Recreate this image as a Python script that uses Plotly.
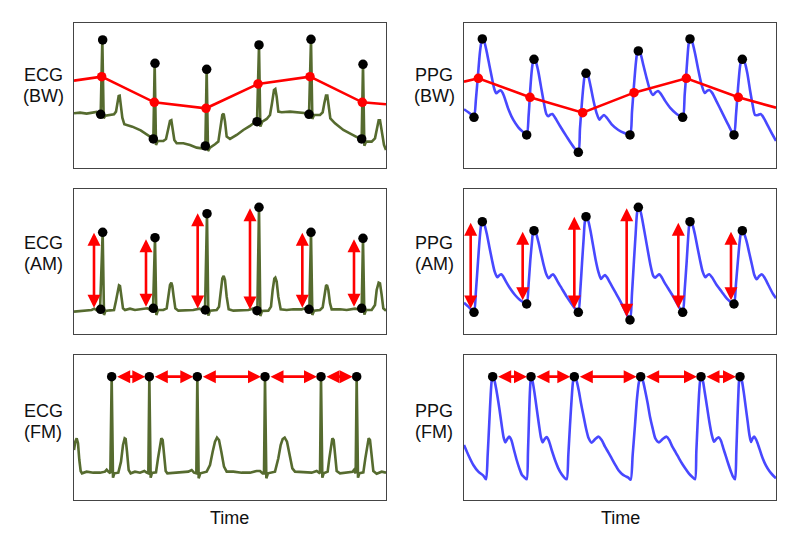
import plotly.graph_objects as go

# ---------------------------------------------------------------
# Values (picture units: x runs
# 42..978 across each panel, y runs downward inside each panel).
# ---------------------------------------------------------------
ROW_LABELS_LEFT = [("ECG", "(BW)"), ("ECG", "(AM)"), ("ECG", "(FM)")]
ROW_LABELS_RIGHT = [("PPG", "(BW)"), ("PPG", "(AM)"), ("PPG", "(FM)")]
X_TITLE = "Time"

# ---- ECG, baseline wander ----
ECG_BW = [(42,295),(60,293),(80,296),(100,294),(110,291),(116,295),(122,300),(127,73),(131,310),(136,302),
          (150,300),(162,298),(168,290),(172,265),(176,243),(179,242),(182,262),(187,308),(193,328),(217,335),
          (242,346),(267,362),(276,369),(280,374),(284,145),(288,390),(293,378),(310,378),(318,372),(324,345),
          (330,318),(334,316),(338,340),(343,375),(350,385),(370,385),(390,390),(410,398),(425,400),(432,396),
          (436,398),(440,163),(444,408),(450,398),(465,388),(475,380),(481,340),(487,300),(491,296),(495,320),
          (500,365),(510,372),(530,360),(550,345),(570,333),(584,322),(591,322),(597,90),(601,335),(607,320),
          (620,312),(630,300),(636,265),(642,225),(646,222),(650,245),(655,290),(665,292),(690,290),(720,292),
          (740,295),(747,300),(753,73),(757,312),(762,300),(780,300),(788,292),(793,265),(798,242),(802,242),
          (806,270),(811,310),(825,325),(850,345),(875,358),(895,368),(905,374),(909,148),(913,392),(918,380),
          (935,380),(945,370),(950,340),(956,316),(960,316),(965,345),(972,390),(978,405)]
ECG_BW_PEAKS = [(128,75),(285,145),(440,163),(597,90),(753,73),(909,148)]
ECG_BW_TROUGHS = [(122,298),(280,372),(436,393),(591,320),(747,298),(905,372)]
ECG_BW_MID = [(125,185),(283,262),(438,280),(594,207),(750,185),(907,262)]
ECG_BW_EDGES = [(42,197),(978,268)]

# ---- PPG, baseline wander ----
PPG_BW = [(42,283),(55,292),(65,300),(72,307),(78,250),(84,180),(90,110),(95,78),(98,72),(103,80),(110,110),
          (118,150),(126,190),(133,222),(139,235),(146,229),(152,226),(158,234),(165,252),(175,282),(190,315),
          (205,337),(218,350),(230,360),(236,300),(241,220),(246,160),(250,136),(253,133),(258,142),(265,170),
          (273,215),(281,260),(289,297),(295,304),(301,299),(307,297),(314,306),(330,333),(350,365),(370,395),
          (385,412),(390,340),(396,260),(401,205),(405,178),(409,175),(415,185),(422,215),(430,255),(440,295),
          (448,314),(455,306),(462,300),(470,308),(485,328),(505,345),(525,355),(540,360),(546,290),(552,210),
          (558,140),(562,112),(566,108),(572,118),(580,150),(590,190),(600,225),(609,240),(617,232),(624,228),
          (632,236),(645,257),(660,278),(680,297),(698,307),(704,240),(710,160),(715,95),(718,75),(721,72),
          (727,82),(735,115),(745,165),(755,210),(764,234),(771,228),(778,225),(786,233),(800,260),(815,290),
          (835,330),(852,360),(858,300),(864,220),(870,155),(874,136),(878,133),(884,142),(892,175),(900,225),
          (908,270),(915,300),(924,300),(932,297),(940,307),(955,335),(968,360),(978,378)]
PPG_BW_PEAKS = [(97,72),(252,133),(408,175),(565,108),(720,72),(877,133)]
PPG_BW_TROUGHS = [(72,307),(230,360),(385,412),(540,360),(698,307),(852,360)]
PPG_BW_MID = [(85,190),(240,247),(398,293),(552,233),(709,190),(865,247)]
PPG_BW_EDGES = [(42,200),(978,278)]

# ---- ECG, amplitude modulation ----
ECG_AM = [(42,395),(60,393),(80,392),(95,390),(103,386),(110,391),(120,393),(128,157),(132,405),(136,393),
          (150,391),(162,390),(168,362),(173,332),(177,316),(180,318),(184,345),(189,385),(195,390),(210,386),
          (225,390),(250,388),(262,385),(270,389),(279,390),(285,173),(289,405),(294,390),(310,390),(320,385),
          (325,350),(330,315),(334,308),(337,318),(341,350),(346,385),(355,392),(380,392),(400,390),(418,386),
          (428,390),(435,392),(441,101),(445,407),(450,392),(470,390),(477,380),(482,330),(487,295),(491,288),
          (495,300),(500,350),(506,388),(520,392),(545,392),(565,390),(578,386),(585,392),(592,394),(597,82),
          (601,408),(606,393),(625,392),(633,380),(638,330),(643,296),(646,293),(650,305),(655,350),(662,388),
          (680,390),(700,388),(725,388),(735,385),(742,390),(748,392),(753,157),(757,405),(762,392),(780,390),
          (788,382),(793,345),(798,318),(801,315),(805,330),(810,370),(815,388),(840,388),(860,390),(885,386),
          (898,388),(905,390),(909,175),(913,404),(918,390),(935,390),(945,375),(950,330),(956,308),(960,310),
          (965,345),(970,385),(978,392)]
ECG_AM_PEAKS = [(128,157),(285,173),(441,101),(597,82),(753,157),(909,175)]
ECG_AM_TROUGHS = [(122,388),(280,385),(436,390),(591,392),(747,388),(905,385)]
ECG_AM_ARROW_X = [102, 258, 413, 570, 727, 882]
ECG_AM_ARROW_TOP = [158, 178, 100, 85, 158, 178]
ECG_AM_ARROW_BOTTOM = [388, 385, 390, 393, 388, 385]

# ---- PPG, amplitude modulation ----
PPG_AM = [(42,368),(55,380),(65,390),(72,397),(78,330),(84,245),(90,165),(94,132),(98,125),(103,133),(110,160),
          (118,200),(126,240),(134,275),(142,292),(148,286),(154,283),(160,290),(168,305),(180,325),(195,345),
          (210,360),(222,368),(230,372),(236,310),(241,240),(246,185),(249,158),(253,152),(258,160),(265,185),
          (273,220),(281,255),(289,283),(296,295),(303,287),(309,283),(315,290),(323,305),(335,325),(350,350),
          (365,372),(377,388),(385,397),(391,330),(396,250),(401,175),(404,130),(408,110),(414,120),(421,150),
          (429,195),(437,240),(445,275),(453,297),(459,290),(465,285),(471,292),(480,308),(495,335),(510,362),
          (525,392),(540,420),(546,340),(552,240),(557,160),(561,100),(565,82),(571,92),(578,125),(586,170),
          (594,215),(602,258),(610,288),(616,293),(622,287),(628,283),(635,292),(645,310),(665,342),(685,377),
          (698,397),(704,330),(710,245),(715,165),(718,132),(721,125),(727,133),(734,160),(742,200),(750,240),
          (758,275),(766,292),(772,286),(778,283),(786,292),(800,315),(815,335),(830,355),(845,368),(852,372),
          (858,310),(864,240),(869,185),(873,158),(877,152),(882,160),(890,185),(898,220),(906,255),(913,285),
          (920,298),(928,288),(935,283),(943,292),(955,315),(968,340),(978,355)]
PPG_AM_PEAKS = [(97,125),(252,152),(408,110),(565,82),(720,125),(877,152)]
PPG_AM_TROUGHS = [(72,397),(230,372),(385,397),(540,420),(698,397),(852,372)]
PPG_AM_ARROW_X = [62, 218, 373, 530, 685, 843]
PPG_AM_ARROW_TOP = [128, 155, 110, 85, 128, 155]
PPG_AM_ARROW_BOTTOM = [390, 365, 390, 415, 390, 365]

# ---- ECG, frequency modulation ----
ECG_FM = [(42,315),(46,290),(50,280),(54,295),(58,345),(62,378),(66,385),(80,380),(100,383),(120,383),(135,380),
          (140,374),(145,380),(151,385),(155,95),(159,398),(163,385),(175,383),(183,350),(189,300),(194,280),
          (197,282),(201,320),(206,375),(212,385),(225,380),(240,383),(253,378),(260,383),(265,385),(268,95),
          (272,398),(276,384),(288,382),(294,340),(300,295),(304,280),(308,285),(312,330),(317,378),(322,385),
          (345,383),(370,383),(385,380),(395,375),(402,383),(409,385),(412,95),(416,400),(421,385),(440,380),
          (450,360),(458,320),(465,290),(471,278),(477,285),(484,320),(492,365),(500,380),(520,380),(545,383),
          (570,383),(590,378),(600,378),(608,385),(612,385),(615,95),(619,400),(624,385),(645,380),(655,340),
          (662,300),(668,282),(674,278),(681,290),(688,330),(697,370),(705,380),(730,381),(755,383),(770,378),
          (777,385),(780,385),(783,95),(787,398),(791,385),(803,380),(808,340),(813,298),(817,280),(821,285),
          (825,330),(830,378),(840,385),(860,382),(878,380),(882,375),(886,385),(887,385),(890,95),(894,398),
          (898,385),(910,382),(916,340),(922,298),(926,280),(930,285),(935,330),(940,378),(950,386),(965,380),
          (978,383)]
ECG_FM_BEAT_X = [155, 268, 412, 615, 783, 890]
ECG_FM_BEAT_Y = [95, 95, 95, 95, 95, 95]

# ---- PPG, frequency modulation ----
PPG_FM = [(42,300),(55,330),(70,360),(85,380),(100,392),(108,403),(113,330),(118,230),(122,150),(125,108),
          (128,95),(133,105),(140,140),(148,190),(155,240),(161,278),(166,292),(172,282),(178,275),(184,285),
          (192,315),(200,345),(208,370),(216,390),(224,398),(230,403),(234,320),(237,220),(240,135),(243,95),
          (247,105),(253,140),(260,190),(267,240),(273,278),(278,292),(284,282),(290,276),(296,286),(305,315),
          (315,345),(325,370),(335,388),(343,398),(350,403),(355,330),(360,240),(365,160),(369,110),(373,95),
          (379,105),(386,135),(393,175),(400,210),(408,250),(416,280),(425,293),(435,283),(446,275),(455,285),
          (465,305),(475,322),(485,340),(495,358),(505,375),(515,386),(525,393),(535,398),(542,404),(548,330),
          (555,240),(561,160),(567,110),(572,95),(578,105),(585,135),(593,175),(600,215),(608,250),(616,280),
          (627,292),(638,282),(650,275),(658,285),(667,305),(677,322),(687,340),(697,357),(707,372),(717,386),
          (727,396),(735,403),(739,320),(743,230),(747,150),(750,110),(753,95),(758,105),(764,140),(771,185),
          (778,230),(785,268),(792,290),(799,282),(806,277),(812,285),(820,310),(828,335),(836,360),(843,380),
          (849,395),(855,403),(859,320),(862,230),(865,150),(867,110),(870,95),(875,105),(881,140),(887,185),
          (893,230),(898,268),(903,291),(908,280),(913,275),(919,285),(928,310),(938,340),(948,362),(958,378),
          (968,390),(978,400)]
PPG_FM_BEAT_X = [128, 243, 373, 572, 753, 870]
PPG_FM_BEAT_Y = [95, 95, 95, 95, 95, 95]

# ---------------------------------------------------------------
# Styling / layout
# ---------------------------------------------------------------
PAGE_OFFSET = 8          # the page body adds 8 px on the left and top
W, H = 800 - PAGE_OFFSET, 548 - PAGE_OFFSET
ECG_COLOR = "#566b2f"
PPG_COLOR = "#4848ff"
RED = "#ff0000"
BLACK = "#000000"
FONT = "Arial, Liberation Sans, Helvetica, sans-serif"


def fx(px):
    return (px - PAGE_OFFSET) / W


def fy(py):
    return 1 - (py - PAGE_OFFSET) / H


COL_PX = [(74, 386), (464, 776)]
ROW_PX = [(23.3, 168.3), (189.3, 334.0), (355.0, 500.0)]
ROW_YRANGE = [(460, 25), (462, 28), (465, 30)]
X_RANGE = (42, 978)

fig = go.Figure()


def ax_names(i):
    return ("x" if i == 1 else f"x{i}", "y" if i == 1 else f"y{i}")


def add_wave(i, pts, color, shape):
    xa, ya = ax_names(i)
    xs = [p[0] for p in pts]
    ys = [p[1] for p in pts]
    line = dict(color=color, width=2.6, shape=shape)
    if shape == "spline":
        line["smoothing"] = 0.7
    fig.add_trace(go.Scatter(x=xs, y=ys, mode="lines", line=line, xaxis=xa, yaxis=ya,
                             hoverinfo="skip", showlegend=False))


def add_dots(i, pts, color, size=9.5):
    xa, ya = ax_names(i)
    fig.add_trace(go.Scatter(x=[p[0] for p in pts], y=[p[1] for p in pts], mode="markers",
                             marker=dict(color=color, size=size, line=dict(width=0)),
                             xaxis=xa, yaxis=ya, hoverinfo="skip", showlegend=False))


def add_redline(i, mids, edges):
    xa, ya = ax_names(i)
    pts = [edges[0]] + list(mids) + [edges[1]]
    fig.add_trace(go.Scatter(x=[p[0] for p in pts], y=[p[1] for p in pts], mode="lines",
                             line=dict(color=RED, width=2.6), xaxis=xa, yaxis=ya,
                             hoverinfo="skip", showlegend=False))


annotations = []


def add_arrow(i, x0, y0, x1, y1, stand=0):
    xa, ya = ax_names(i)
    annotations.append(dict(x=x1, y=y1, ax=x0, ay=y0, xref=xa, yref=ya, axref=xa, ayref=ya,
                            text="", showarrow=True, arrowhead=2, startarrowhead=2,
                            arrowside="end+start", arrowsize=1.0, startarrowsize=1.0,
                            arrowwidth=2.6, arrowcolor=RED, standoff=stand, startstandoff=stand))


# Row 1: baseline wander
add_wave(1, ECG_BW, ECG_COLOR, "linear")
add_redline(1, ECG_BW_MID, ECG_BW_EDGES)
add_dots(1, ECG_BW_PEAKS + ECG_BW_TROUGHS, BLACK)
add_dots(1, ECG_BW_MID, RED)

add_wave(2, PPG_BW, PPG_COLOR, "spline")
add_redline(2, PPG_BW_MID, PPG_BW_EDGES)
add_dots(2, PPG_BW_PEAKS + PPG_BW_TROUGHS, BLACK)
add_dots(2, PPG_BW_MID, RED)

# Row 2: amplitude modulation
add_wave(3, ECG_AM, ECG_COLOR, "linear")
add_dots(3, ECG_AM_PEAKS + ECG_AM_TROUGHS, BLACK)
for x, t, b in zip(ECG_AM_ARROW_X, ECG_AM_ARROW_TOP, ECG_AM_ARROW_BOTTOM):
    add_arrow(3, x, b, x, t)

add_wave(4, PPG_AM, PPG_COLOR, "spline")
add_dots(4, PPG_AM_PEAKS + PPG_AM_TROUGHS, BLACK)
for x, t, b in zip(PPG_AM_ARROW_X, PPG_AM_ARROW_TOP, PPG_AM_ARROW_BOTTOM):
    add_arrow(4, x, b, x, t)

# Row 3: frequency modulation
add_wave(5, ECG_FM, ECG_COLOR, "linear")
for k in range(len(ECG_FM_BEAT_X) - 1):
    add_arrow(5, ECG_FM_BEAT_X[k], ECG_FM_BEAT_Y[k], ECG_FM_BEAT_X[k + 1], ECG_FM_BEAT_Y[k + 1], stand=4)
add_dots(5, list(zip(ECG_FM_BEAT_X, ECG_FM_BEAT_Y)), BLACK)

add_wave(6, PPG_FM, PPG_COLOR, "spline")
for k in range(len(PPG_FM_BEAT_X) - 1):
    add_arrow(6, PPG_FM_BEAT_X[k], PPG_FM_BEAT_Y[k], PPG_FM_BEAT_X[k + 1], PPG_FM_BEAT_Y[k + 1], stand=4)
add_dots(6, list(zip(PPG_FM_BEAT_X, PPG_FM_BEAT_Y)), BLACK)

# Axes
layout_axes = {}
for r in range(3):
    top_px, bot_px = ROW_PX[r]
    ydom = [fy(bot_px), fy(top_px)]
    for c in range(2):
        i = r * 2 + c + 1
        sfx = "" if i == 1 else str(i)
        common = dict(showticklabels=False, ticks="", showgrid=False, zeroline=False,
                      showline=True, mirror=True, linecolor="#444444", linewidth=1.2, fixedrange=True)
        layout_axes[f"xaxis{sfx}"] = dict(domain=[fx(COL_PX[c][0]), fx(COL_PX[c][1])],
                                          range=list(X_RANGE), anchor=f"y{sfx}", **common)
        layout_axes[f"yaxis{sfx}"] = dict(domain=ydom, range=list(ROW_YRANGE[r]),
                                          anchor=f"x{sfx}", **common)

# Row labels (reference pixel positions)
LABEL_Y = [(75, 96), (243, 264), (411, 432)]
for r in range(3):
    for c, labels in enumerate([ROW_LABELS_LEFT, ROW_LABELS_RIGHT]):
        cx = 43 if c == 0 else 434
        for line_txt, ypx in zip(labels[r], LABEL_Y[r]):
            annotations.append(dict(x=fx(cx), y=fy(ypx), xref="paper", yref="paper",
                                    text=line_txt, showarrow=False, xanchor="center",
                                    yanchor="middle", font=dict(family=FONT, size=18, color="#111111")))

for cx in (230, 620):
    annotations.append(dict(x=fx(cx), y=fy(518), xref="paper", yref="paper", text=X_TITLE,
                            showarrow=False, xanchor="center", yanchor="middle",
                            font=dict(family=FONT, size=18, color="#111111")))

fig.update_layout(width=W, height=H, margin=dict(l=0, r=0, t=0, b=0),
                  paper_bgcolor="white", plot_bgcolor="white", showlegend=False,
                  hovermode=False, annotations=annotations, **layout_axes)

fig.write_html("out.html")
